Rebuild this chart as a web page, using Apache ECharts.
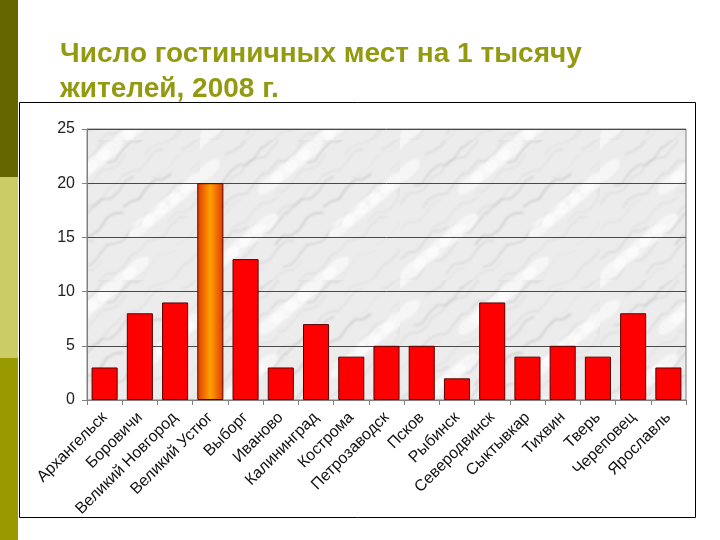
<!DOCTYPE html>
<html><head><meta charset="utf-8">
<script src="https://cdn.jsdelivr.net/npm/echarts@6/dist/echarts.min.js"></script>
<style>html,body{margin:0;padding:0;background:#fff}#c{width:720px;height:540px}</style>
</head><body><div id="c"></div>
<script>
const categories = ['Архангельск','Боровичи','Великий Новгород','Великий Устюг','Выборг','Иваново','Калининград','Кострома','Петрозаводск','Псков','Рыбинск','Северодвинск','Сыктывкар','Тихвин','Тверь','Череповец','Ярославль'];
const values = [3, 8, 9, 20, 13, 3, 7, 4, 5, 5, 2, 9, 4, 5, 4, 8, 3];
const highlightIndex = 3;
const yTicks = [0, 5, 10, 15, 20, 25];

// marble-like background texture (pure decoration)
function marble() {
  const c = document.createElement('canvas');
  c.width = 200; c.height = 140;
  const g = c.getContext('2d');
  g.fillStyle = '#ececec'; g.fillRect(0, 0, 200, 140);
  g.filter = 'blur(1.2px)';
  for (let k = 0; k < 40; k++) {
    const x0 = (k * 53) % 220 - 20, y0 = (k * 37) % 170;
    g.strokeStyle = 'rgba(110,110,110,' + (0.08 + (k % 4) * 0.045) + ')';
    g.lineWidth = 0.8 + (k % 3) * 0.6;
    g.beginPath();
    g.moveTo(x0, y0);
    for (let s = 1; s <= 6; s++) {
      g.lineTo(x0 + s * 8, y0 - s * 6 + Math.sin(s * 1.7 + k) * 4);
    }
    g.stroke();
  }
  for (let k = 0; k < 18; k++) {
    g.fillStyle = 'rgba(255,255,255,0.55)';
    g.beginPath();
    g.ellipse((k * 71) % 200, (k * 43) % 140, 16, 7, -0.7, 0, Math.PI * 2);
    g.fill();
  }
  return c;
}

const chart = echarts.init(document.getElementById('c'));
const redStyle = {color: '#ff0000', borderColor: '#5a0000', borderWidth: 1};
const orangeStyle = {
  color: new echarts.graphic.LinearGradient(0, 0, 1, 0, [
    {offset: 0, color: '#e03a00'}, {offset: 0.5, color: '#ffa000'}, {offset: 1, color: '#e03a00'}
  ]),
  borderColor: '#5a0000', borderWidth: 1
};
const font = 'Liberation Sans, Arial, sans-serif';
chart.setOption({
  animation: false,
  graphic: [
    {type: 'rect', shape: {x: 0, y: 0, width: 18, height: 177}, style: {fill: '#666600'}},
    {type: 'rect', shape: {x: 0, y: 177, width: 18, height: 181}, style: {fill: '#cccc66'}},
    {type: 'rect', shape: {x: 0, y: 358, width: 18, height: 182}, style: {fill: '#999900'}},
    {type: 'rect', shape: {x: 19.5, y: 102.5, width: 676, height: 415}, style: {fill: 'none', stroke: '#000', lineWidth: 1}}
  ],
  title: {
    text: 'Число гостиничных мест на 1 тысячу\nжителей, 2008 г.',
    left: 60, top: 37, padding: 0,
    textStyle: {color: '#939a10', fontFamily: font, fontWeight: 'bold', fontSize: 28, lineHeight: 35}
  },
  grid: {left: 87, right: 34, top: 129, bottom: 140, show: true,
    backgroundColor: {image: marble(), repeat: 'repeat'},
    borderColor: '#808080', borderWidth: 1},
  xAxis: {
    type: 'category', data: categories,
    axisLine: {lineStyle: {color: '#808080'}},
    axisTick: {show: true, alignWithLabel: false, length: 5, lineStyle: {color: '#808080'}},
    axisLabel: {rotate: 45, interval: 0, color: '#111', fontSize: 16, fontFamily: font, margin: 15}
  },
  yAxis: {
    type: 'value', min: 0, max: 25, interval: 5,
    axisLine: {show: true, lineStyle: {color: '#808080'}},
    axisTick: {show: true, length: 5, lineStyle: {color: '#808080'}},
    splitLine: {lineStyle: {color: '#4a4a4a', width: 1}},
    axisLabel: {color: '#222', fontSize: 16, fontFamily: font, margin: 12,
      formatter: v => yTicks.includes(v) ? String(v) : ''}
  },
  series: [{
    type: 'bar', barCategoryGap: '26%',
    data: values.map((v, i) => ({value: v, itemStyle: i === highlightIndex ? orangeStyle : redStyle}))
  }]
});
</script></body></html>
